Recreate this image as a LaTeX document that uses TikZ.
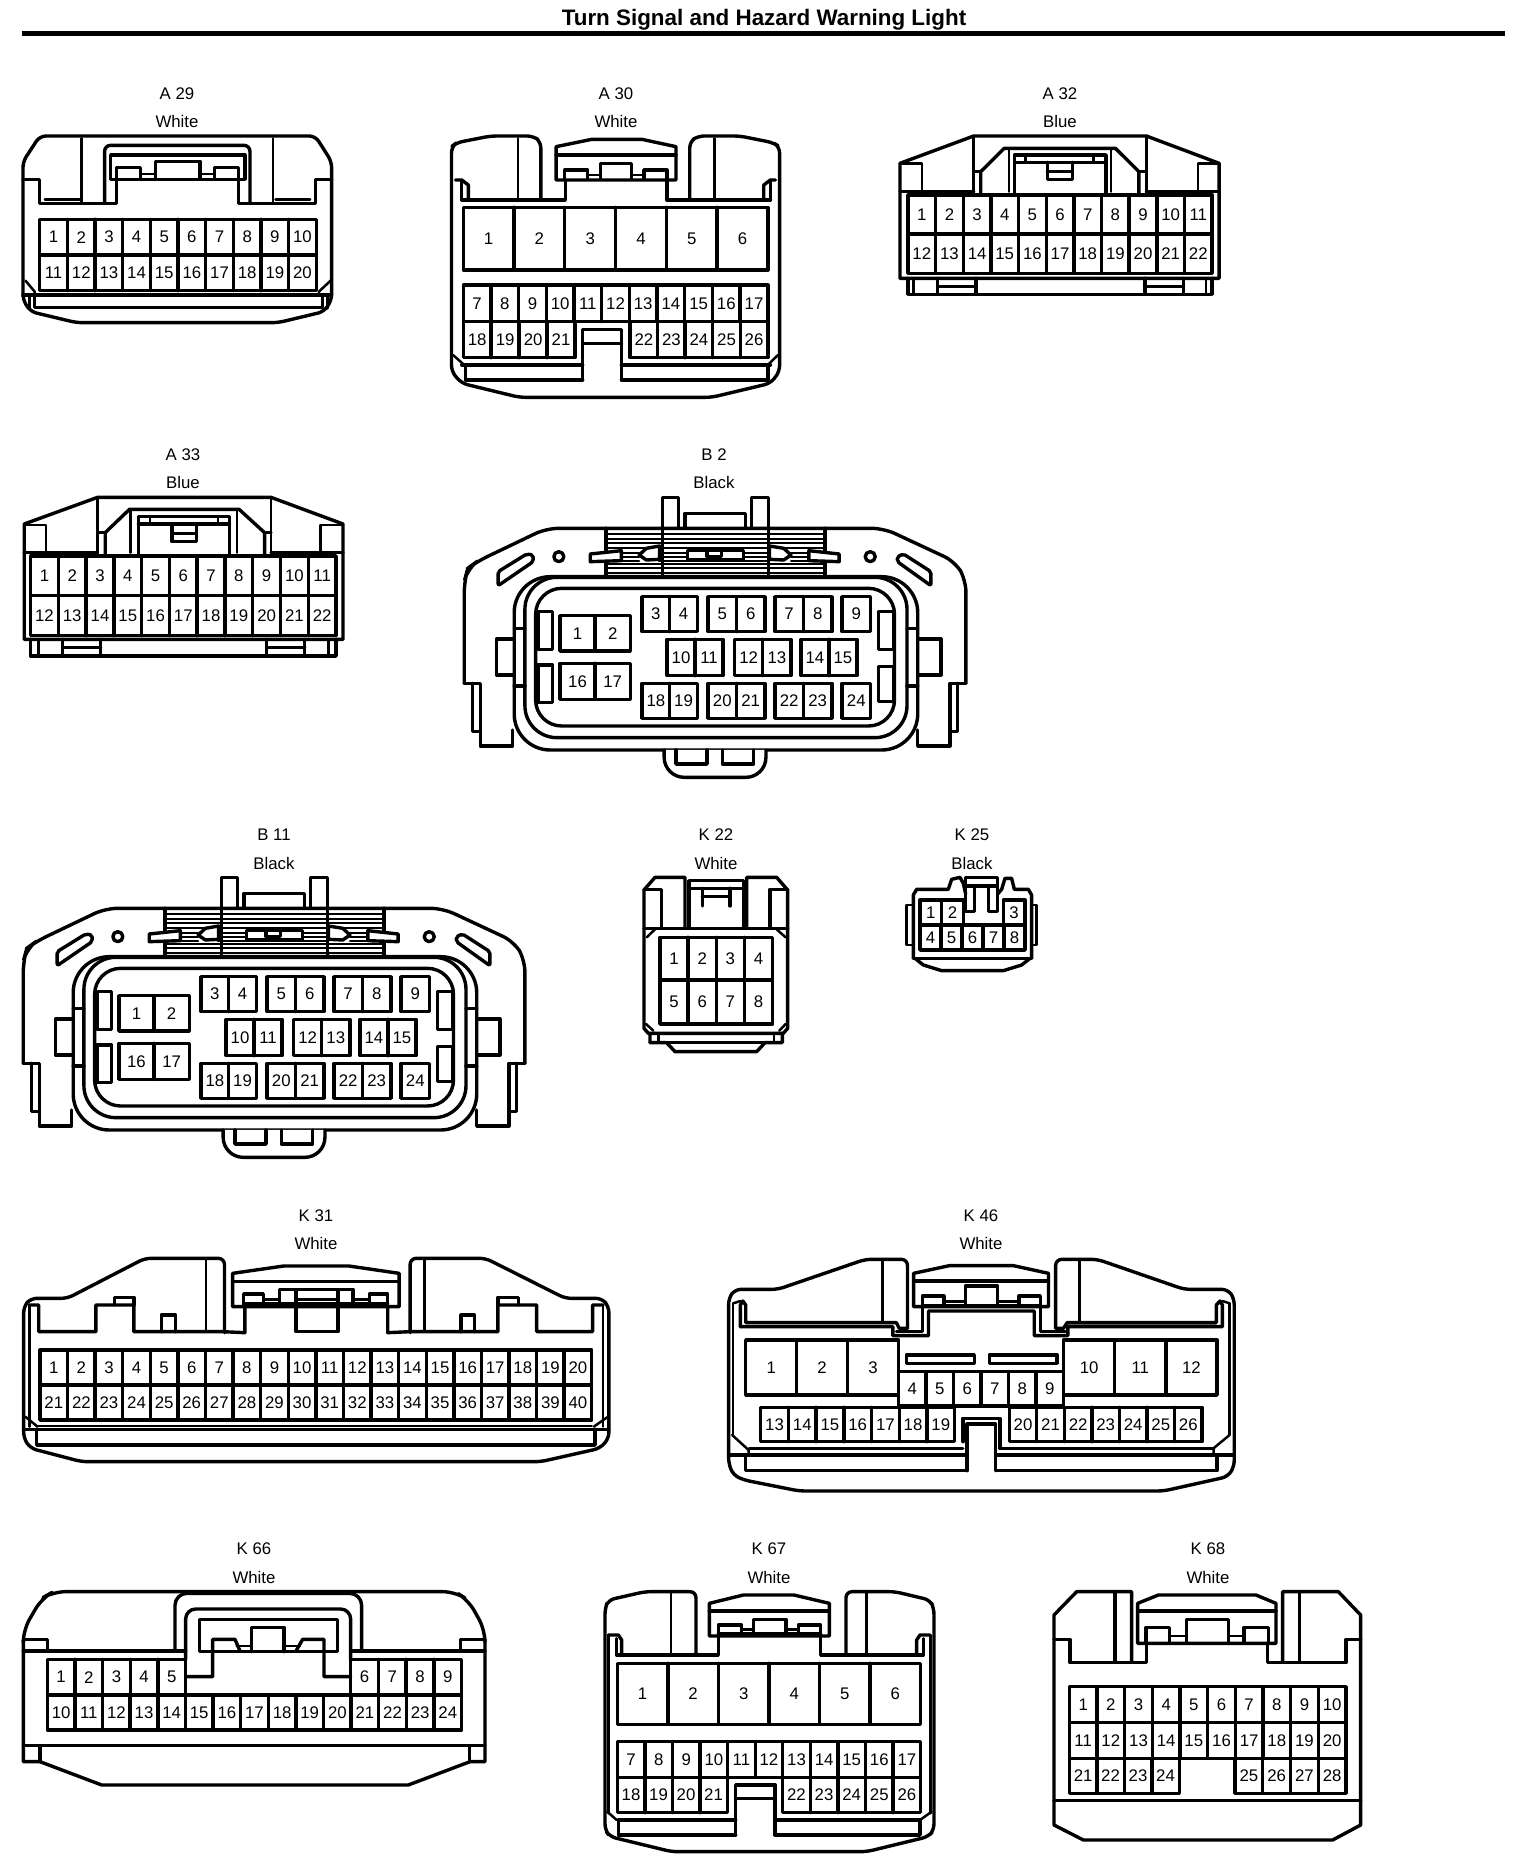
\documentclass[tikz,border=0pt]{standalone}
\usepackage{fontspec}
\setmainfont{Liberation Sans}
\tikzset{
  zm/.style n args={3}{x={0.5pt/#1},y={-0.5pt/3},xshift={#2*0.5pt},yshift={-#3*0.5pt}},
  pinlabel/.style={inner sep=0pt,font=\fontsize{8.4}{10}\selectfont},
  caption/.style={inner sep=0pt,font=\fontsize{8.4}{10}\selectfont},
  heading/.style={inner sep=0pt,font=\fontsize{11.2}{13}\selectfont\bfseries},
  rib/.style={line width=0.9pt},
  fine/.style={line width=1.25pt},
  wfill/.style={fill=white},
}
% x0 x1 y0 y1 first count
\newcommand{\pinrow}[6]{%
  \draw (#1,#3) rectangle (#2,#4);
  \foreach \i in {1,...,#6}{%
    \pgfmathsetmacro\xa{#1+(#2-#1)/#6*(\i-1)}%
    \pgfmathsetmacro\xc{#1+(#2-#1)/#6*(\i-0.5)}%
    \pgfmathsetmacro\ym{(#3+#4)/2}%
    \pgfmathtruncatemacro\lab{#5+\i-1}%
    \ifnum\i>1 \draw (\xa,#3) -- (\xa,#4);\fi
    \node[pinlabel] (p\lab) at (\xc,\ym) {\lab};
  }%
}
\newcommand{\capt}[4]{% name x id colour
  \node[caption] (n#1) at (#2*0.5pt,-#3*0.5pt) {#4};
}
\newcommand{\bconn}{%
  % ribs
  \foreach \yy in {268,282,296,310,324,372,385,398}{\draw[rib] (462,\yy) -- (1075,\yy);}
  \foreach \xa/\xb in {505/555,610/690,845/920,980/1030}{
    \foreach \yy in {338,350,362}{\draw[rib] (\xa,\yy) -- (\xb,\yy);}
  }
  \draw[rounded corners=6pt] (65,730) -- (65,425) -- (75,385) -- (100,365) -- (295,265) -- (1240,265) -- (1440,365) -- (1470,420) -- (1470,730);
  \draw (1470,730) -- (1425,730) -- (1425,918) -- (1335,918) -- (1335,870);
  \draw (65,730) -- (110,730) -- (110,918) -- (200,918) -- (200,870);
  \draw (88,730) -- (88,875) -- (110,875);
  \draw (1447,730) -- (1447,875) -- (1425,875);
  \draw (462,265) -- (462,405);
  \draw (1075,265) -- (1075,405);
  \draw (620,405) -- (620,172) -- (665,172) -- (665,265);
  \draw (917,405) -- (917,172) -- (870,172) -- (870,265);
  \draw (683,265) -- (683,220) -- (852,220) -- (852,265);
  \draw[wfill] (418,365) -- (418,342) -- (505,332) -- (505,362) -- cycle;
  \draw[wfill] (1030,332) -- (1115,342) -- (1115,365) -- (1030,362) -- cycle;
  \draw[wfill] (612,318) -- (575,325) -- (555,345) -- (575,360) -- (612,358) -- cycle;
  \draw[wfill] (920,318) -- (960,325) -- (980,345) -- (960,360) -- (920,358) -- cycle;
  \draw[wfill] (690,332) rectangle (847,360);
  \draw (745,332) -- (745,350) -- (785,350) -- (785,332);
  % slots and holes
  \draw[rounded corners=1pt] (160,395) -- (160,437) -- (258,365) -- (258,345) -- (240,342) -- cycle;
  \draw[rounded corners=1pt] (1372,395) -- (1372,437) -- (1278,365) -- (1278,350) -- (1295,342) -- cycle;
  \draw (330,350) circle [radius=2.5pt];
  \draw (1202,350) circle [radius=2.5pt];
  % housing
  \draw[wfill,rounded corners=18pt] (205,410) rectangle (1335,930);
  \draw[rounded corners=16pt] (235,412) rectangle (1305,893);
  \draw[rounded corners=13pt] (265,445) rectangle (1270,858);
  % side features
  \draw (312,515) -- (272,515) -- (272,628) -- (312,628) -- cycle;
  \draw (312,675) -- (272,675) -- (272,788) -- (312,788) -- cycle;
  \draw (1225,515) -- (1268,515) -- (1268,628) -- (1225,628) -- cycle;
  \draw (1225,680) -- (1268,680) -- (1268,785) -- (1225,785) -- cycle;
  \draw (205,597) -- (155,597) -- (155,705) -- (205,705);
  \draw (1335,597) -- (1400,597) -- (1400,705) -- (1335,705);
  \draw (205,565) -- (235,565);
  \draw (205,738) -- (235,738);
  \draw (1305,565) -- (1335,565);
  \draw (1305,738) -- (1335,738);
  % pins
  \pinrow{333}{530}{527}{633}{1}{2}
  \pinrow{333}{530}{670}{778}{16}{2}
  \pinrow{563}{718}{470}{575}{3}{2}
  \pinrow{748}{907}{470}{575}{5}{2}
  \pinrow{935}{1095}{470}{575}{7}{2}
  \pinrow{1123}{1203}{470}{575}{9}{1}
  \pinrow{633}{790}{598}{707}{10}{2}
  \pinrow{822}{980}{598}{707}{12}{2}
  \pinrow{1008}{1165}{598}{707}{14}{2}
  \pinrow{563}{718}{730}{835}{18}{2}
  \pinrow{748}{907}{730}{835}{20}{2}
  \pinrow{935}{1095}{730}{835}{22}{2}
  \pinrow{1123}{1203}{730}{835}{24}{1}
  % bottom clip
  \draw[wfill,rounded corners=10pt] (625,930) -- (625,1012) -- (910,1012) -- (910,930);
  \draw (658,930) -- (658,972) -- (745,972) -- (745,930);
  \draw (788,930) -- (788,972) -- (875,972) -- (875,930);
}
\begin{document}
\begin{tikzpicture}[line width=1.7pt,line join=round,line cap=round]
\useasboundingbox (0,0) rectangle (768pt,-937pt);
\node[heading] (title) at (764*0.5pt,-20*0.5pt) {Turn Signal and Hazard Warning Light};
\coordinate (ruleL) at (22*0.5pt,-33.5*0.5pt);
\coordinate (ruleR) at (1505*0.5pt,-33.5*0.5pt);
\draw[line width=2.5pt,line cap=butt] (ruleL) -- (ruleR);

\capt{a29a}{177}{94}{A 29}\capt{a29b}{177}{121}{White}
\capt{a30a}{616}{94}{A 30}\capt{a30b}{616}{121}{White}
\capt{a32a}{1060}{94}{A 32}\capt{a32b}{1060}{121}{Blue}
\capt{a33a}{183}{455}{A 33}\capt{a33b}{183}{482}{Blue}
\capt{b2a}{714}{455}{B 2}\capt{b2b}{714}{482}{Black}
\capt{b11a}{274}{835}{B 11}\capt{b11b}{274}{863}{Black}
\capt{k22a}{716}{835}{K 22}\capt{k22b}{716}{863}{White}
\capt{k25a}{972}{835}{K 25}\capt{k25b}{972}{863}{Black}
\capt{k31a}{316}{1216}{K 31}\capt{k31b}{316}{1243}{White}
\capt{k46a}{981}{1216}{K 46}\capt{k46b}{981}{1243}{White}
\capt{k66a}{254}{1549}{K 66}\capt{k66b}{254}{1577}{White}
\capt{k67a}{769}{1549}{K 67}\capt{k67b}{769}{1577}{White}
\capt{k68a}{1208}{1549}{K 68}\capt{k68b}{1208}{1577}{White}

% A29
\begin{scope}[zm={1.96}{0}{0},name prefix=a29-]
  \draw[rounded corners=3pt] (78,408) -- (45,485) -- (45,900) -- (60,935) -- (150,968) -- (545,968) -- (635,935) -- (650,900) -- (650,485) -- (618,408) -- cycle;
  \draw (45,538) -- (78,538) -- (78,610) -- (228,610) -- (228,538);
  \draw (650,538) -- (618,538) -- (618,610) -- (468,610) -- (468,538);
  \draw[rounded corners=3pt] (205,610) -- (205,436) -- (490,436) -- (490,610);
  \draw (217,538) rectangle (480,465);
  \draw (228,535) -- (228,502) -- (275,502) -- (275,535);
  \draw (305,535) -- (305,484) -- (392,484) -- (392,535);
  \draw (420,535) -- (420,502) -- (468,502) -- (468,535);
  \draw[fine] (275,522) -- (305,522) (392,522) -- (420,522);
  \draw[fine] (160,415) -- (160,610) (535,415) -- (535,610);
  \draw[fine] (88,598) -- (160,598) (540,598) -- (608,598);
  \pinrow{78}{620}{658}{765}{1}{10}
  \pinrow{78}{620}{765}{872}{11}{10}
  \draw (45,885) -- (650,885);
  \draw (68,885) -- (68,922) -- (632,922) -- (632,885);
  \draw[fine] (50,842) -- (68,875) -- (68,885) (648,842) -- (625,875) -- (625,885);
  \draw[fine] (58,885) -- (58,925) (642,885) -- (642,925);
\end{scope}

% A30
\begin{scope}[zm={1.96}{0}{0},name prefix=a30-]
  \draw[rounded corners=3pt] (1060,600) -- (1060,425) -- (1045,408) -- (962,408) -- (895,428) -- (885,440) -- (885,1115) -- (905,1150) -- (1018,1192) -- (1395,1192) -- (1510,1150) -- (1528,1115) -- (1528,440) -- (1515,428) -- (1450,408) -- (1368,408) -- (1352,425) -- (1352,600);
  \draw[fine] (1015,415) -- (1015,600) (1400,415) -- (1400,600);
  \draw (1090,540) -- (1090,440) -- (1160,418) -- (1258,418) -- (1325,440) -- (1325,540) -- cycle;
  \draw (1090,465) -- (1325,465);
  \draw (1107,535) -- (1107,510) -- (1152,510) -- (1152,535);
  \draw (1177,535) -- (1177,490) -- (1238,490) -- (1238,535);
  \draw (1262,535) -- (1262,510) -- (1307,510) -- (1307,535);
  \draw[fine] (1152,525) -- (1177,525) (1238,525) -- (1262,525);
  \draw (905,600) -- (1108,600) -- (1108,540);
  \draw (1307,540) -- (1307,600) -- (1510,600);
  \draw (893,540) -- (905,540) -- (918,555) -- (918,600);
  \draw[fine] (905,540) -- (905,600) (1510,540) -- (1510,600);
  \draw (1520,540) -- (1510,540) -- (1497,555) -- (1497,600);
  \pinrow{908}{1505}{622}{810}{1}{6}
  \pinrow{908}{1505}{855}{965}{7}{11}
  \pinrow{908}{1127}{965}{1073}{18}{4}
  \pinrow{1235}{1505}{965}{1073}{22}{5}
  \draw (1142,1140) -- (1142,988) -- (1218,988) -- (1218,1140);
  \draw (1142,1030) -- (1218,1030);
  \draw (905,1095) -- (1142,1095) (1218,1095) -- (1510,1095);
  \draw (912,1095) -- (912,1140) -- (1142,1140) (1218,1140) -- (1505,1140) -- (1505,1095);
  \draw[fine] (888,1065) -- (910,1095) (1525,1065) -- (1505,1095);
\end{scope}

% A32
\begin{scope}[zm={2.13}{800}{60},name prefix=a32-]
  \draw (213,655) -- (213,310) -- (370,228) -- (738,228) -- (893,310) -- (893,655) -- cycle;
  \draw[fine] (370,228) -- (370,408) (738,228) -- (738,408);
  \draw[fine] (213,310) -- (260,310) -- (260,395) (893,310) -- (848,310) -- (848,395);
  \draw (213,395) -- (370,395) (738,395) -- (893,395);
  \draw (385,403) -- (385,335) -- (435,265) -- (672,265) -- (722,335) -- (722,403);
  \draw (370,335) -- (385,335) (722,335) -- (738,335);
  \draw (385,403) -- (722,403);
  \draw (457,403) -- (457,285) -- (652,285) -- (652,403);
  \draw[fine] (445,265) -- (445,395) (662,265) -- (662,395);
  \draw (457,307) -- (652,307);
  \draw[fine] (480,285) -- (480,307) (625,285) -- (625,307);
  \draw (527,307) -- (527,358) -- (580,358) -- (580,307);
  \draw (527,335) -- (580,335);
  \pinrow{230}{878}{405}{522}{1}{11}
  \pinrow{230}{878}{522}{640}{12}{11}
  \draw (230,655) -- (230,703) -- (878,703) -- (878,655);
  \draw[fine] (242,655) -- (242,703) (865,655) -- (865,703);
  \draw (293,655) -- (293,703) (375,655) -- (375,703) (293,680) -- (375,680);
  \draw (735,655) -- (735,703) (817,655) -- (817,703) (735,680) -- (817,680);
\end{scope}

% A33
\begin{scope}[zm={1.568}{0}{440},name prefix=a33-]
  \draw (38,598) -- (38,252) -- (153,172) -- (425,172) -- (538,252) -- (538,598) -- cycle;
  \draw[fine] (153,172) -- (153,348) (425,172) -- (425,348);
  \draw[fine] (38,255) -- (72,255) -- (72,335) (538,255) -- (503,255) -- (503,335);
  \draw (38,338) -- (153,338) (425,338) -- (538,338);
  \draw (165,348) -- (165,278) -- (203,208) -- (375,208) -- (415,278) -- (415,348);
  \draw (153,278) -- (165,278) (415,278) -- (425,278);
  \draw (165,348) -- (415,348);
  \draw (217,348) -- (217,230) -- (360,230) -- (360,348);
  \draw[fine] (205,208) -- (205,338) (372,208) -- (372,338);
  \draw (217,252) -- (360,252);
  \draw[fine] (235,230) -- (235,252) (342,230) -- (342,252);
  \draw (270,252) -- (270,305) -- (308,305) -- (308,252);
  \draw (270,280) -- (308,280);
  \pinrow{48}{527}{348}{467}{1}{11}
  \pinrow{48}{527}{467}{587}{12}{11}
  \draw (48,598) -- (48,648) -- (527,648) -- (527,598);
  \draw[fine] (60,598) -- (60,648) (515,598) -- (515,648);
  \draw (98,598) -- (98,648) (158,598) -- (158,648) (98,622) -- (158,622);
  \draw (418,598) -- (418,648) (478,598) -- (478,648) (418,622) -- (478,622);
\end{scope}

% B2 and B11
\begin{scope}[zm={2.8}{441}{440},name prefix=b2-]
  \bconn
\end{scope}
\begin{scope}[zm={2.8}{0}{820},name prefix=b11-]
  \bconn
\end{scope}

% K22
\begin{scope}[zm={3}{620}{820},name prefix=k22-]
  \draw (195,325) -- (195,172) -- (105,172) -- (72,210) -- (72,625) -- (85,640) -- (490,640) -- (503,625) -- (503,210) -- (470,172) -- (380,172) -- (380,325);
  \draw (72,208) -- (125,208) -- (125,325);
  \draw (503,208) -- (450,208) -- (450,325);
  \draw (207,325) -- (207,182) -- (370,182) -- (370,325);
  \draw (207,205) -- (370,205);
  \draw (247,205) -- (247,258) (330,205) -- (330,258);
  \draw (247,230) -- (330,230);
  \draw (72,325) -- (503,325);
  \draw[fine] (80,352) -- (105,328) (470,328) -- (497,352);
  \pinrow{120}{458}{352}{480}{1}{4}
  \pinrow{120}{458}{480}{612}{5}{4}
  \draw[fine] (78,612) -- (100,632) (497,612) -- (478,632);
  \draw (90,640) -- (90,668) -- (140,668) -- (165,695) -- (410,695) -- (435,668) -- (487,668) -- (487,640);
  \draw (90,668) -- (487,668);
  \draw[fine] (115,640) -- (115,668) (462,640) -- (462,668);
\end{scope}

% K25
\begin{scope}[zm={3}{620}{820},name prefix=k25-]
  \draw (880,415) -- (880,225) -- (890,208) -- (985,208) -- (995,178) -- (1020,172) -- (1030,190) -- (1037,222);
  \draw (1235,415) -- (1235,225) -- (1225,208) -- (1183,208) -- (1175,175) -- (1155,175) -- (1145,208) -- (1133,222);
  \draw (1037,198) -- (1037,172) -- (1133,172) -- (1133,198) -- cycle;
  \draw (1037,198) -- (1037,275) -- (1063,275) -- (1063,198);
  \draw (1105,198) -- (1105,275) -- (1133,275) -- (1133,198);
  \draw (880,415) -- (1235,415);
  \draw (885,415) -- (910,435) -- (965,452) -- (1150,452) -- (1205,435) -- (1230,415);
  \draw[fine] (878,255) -- (860,255) -- (860,375) -- (878,375);
  \draw[fine] (1235,255) -- (1250,255) -- (1250,375) -- (1235,375);
  \pinrow{900}{1030}{240}{315}{1}{2}
  \pinrow{1150}{1215}{240}{315}{3}{1}
  \pinrow{900}{1215}{315}{390}{4}{5}
\end{scope}

% K31
\begin{scope}[zm={2.45}{0}{1200},name prefix=k31-]
  \draw[rounded corners=3pt] (550,398) -- (550,175) -- (355,175) -- (165,295) -- (75,295) -- (58,320) -- (58,715) -- (75,745) -- (200,785) -- (1325,785) -- (1470,745) -- (1492,715) -- (1492,320) -- (1475,295) -- (1385,295) -- (1190,175) -- (1005,175) -- (1005,398);
  \draw[fine] (505,180) -- (505,392) (1040,180) -- (1040,392);
  \draw[fine] (72,315) -- (72,680) (1478,315) -- (1478,680);
  \draw (72,315) -- (95,315) -- (95,395) -- (235,395) -- (235,315) -- (328,315) -- (328,395) -- (545,395) -- (600,398) -- (600,320);
  \draw (280,315) -- (280,292) -- (328,292) -- (328,315);
  \draw (395,395) -- (395,345) -- (430,345) -- (430,395);
  \draw (1478,315) -- (1452,315) -- (1452,395) -- (1315,395) -- (1315,315) -- (1220,315) -- (1220,395) -- (1005,395) -- (950,398) -- (950,320);
  \draw (1220,315) -- (1220,292) -- (1270,292) -- (1270,315);
  \draw (1130,395) -- (1130,345) -- (1162,345) -- (1162,395);
  \draw (570,320) -- (570,220) -- (695,198) -- (855,198) -- (978,220) -- (978,320) -- cycle;
  \draw (570,245) -- (978,245);
  \draw (597,320) -- (597,282) -- (645,282) -- (645,310);
  \draw (685,310) -- (685,268) -- (865,268) -- (865,310);
  \draw (905,310) -- (905,282) -- (950,282) -- (950,320);
  \draw[fine] (645,298) -- (685,298) (865,298) -- (905,298);
  \draw (597,310) -- (950,310);
  \draw (725,272) -- (725,395) -- (828,395) -- (828,272);
  \draw[fine] (725,298) -- (828,298);
  \pinrow{98}{1450}{450}{555}{1}{20}
  \pinrow{98}{1450}{555}{660}{21}{20}
  \draw[fine] (95,678) -- (1450,678);
  \draw (58,688) -- (1492,688);
  \draw (90,688) -- (90,735) -- (1458,735) -- (1458,688);
  \draw[fine] (62,650) -- (92,680) (1490,650) -- (1455,680);
\end{scope}

% K46
\begin{scope}[zm={2.8}{710}{1200},name prefix=k46-]
  \draw[rounded corners=3pt] (553,385) -- (553,178) -- (435,178) -- (190,268) -- (70,268) -- (52,295) -- (52,790) -- (65,825) -- (95,840) -- (250,873) -- (1270,873) -- (1450,830) -- (1468,800) -- (1468,295) -- (1450,268) -- (1328,268) -- (1085,178) -- (968,178) -- (968,385);
  \draw[fine] (483,178) -- (483,368) (1035,178) -- (1035,368);
  \draw (570,320) -- (570,220) -- (670,197) -- (850,197) -- (948,220) -- (948,320) -- cycle;
  \draw (570,243) -- (948,243);
  \draw (595,316) -- (595,288) -- (655,288) -- (655,312);
  \draw (715,312) -- (715,258) -- (805,258) -- (805,312);
  \draw (865,312) -- (865,288) -- (925,288) -- (925,316);
  \draw[fine] (655,305) -- (715,305) (805,305) -- (865,305);
  \draw (595,316) -- (925,316);
  \draw (85,380) -- (85,315) -- (92,303) -- (100,315) -- (100,368) -- (522,368) -- (530,385) -- (553,385);
  \draw (85,380) -- (512,380) -- (512,407) -- (612,407) -- (612,333) -- (908,333) -- (908,407) -- (1002,407) -- (1002,380) -- (1435,380) -- (1435,315) -- (1428,303) -- (1418,315) -- (1418,368) -- (1000,368) -- (990,385) -- (968,385);
  \draw (595,320) -- (595,395) -- (522,395);
  \draw (925,320) -- (925,395) -- (995,395);
  \draw[fine] (65,310) -- (65,705) (1455,310) -- (1455,705);
  \draw[fine] (65,310) -- (85,303) (1455,310) -- (1435,303);
  \pinrow{100}{528}{420}{585}{1}{3}
  \pinrow{990}{1420}{420}{585}{10}{3}
  \draw (550,465) rectangle (740,490);
  \draw (782,465) rectangle (972,490);
  \pinrow{528}{990}{515}{618}{4}{6}
  \pinrow{142}{685}{622}{725}{13}{7}
  \pinrow{838}{1378}{622}{725}{20}{7}
  \draw (708,725) -- (708,655) -- (812,655) -- (812,745);
  \draw (720,812) -- (720,672) -- (800,672) -- (800,812);
  \draw (110,745) -- (708,745) (812,745) -- (1410,745);
  \draw (52,765) -- (720,765) (800,765) -- (1468,765);
  \draw (100,765) -- (100,812) -- (720,812) (800,812) -- (1420,812) -- (1420,765);
  \draw[fine] (62,705) -- (108,750) -- (108,765) (1455,705) -- (1410,745) -- (1410,765);
\end{scope}

% K66
\begin{scope}[zm={3}{0}{1540},name prefix=k66-]
  \draw[rounded corners=6pt] (70,300) -- (70,270) -- (125,175) -- (160,155) -- (1365,155) -- (1405,180) -- (1455,270) -- (1455,300);
  \draw (70,300) -- (70,665) -- (120,665) -- (305,735) -- (1225,735) -- (1410,665) -- (1455,665) -- (1455,300);
  \draw (72,298) -- (142,298) -- (142,333) (1382,333) -- (1382,298) -- (1455,298);
  \draw (70,333) -- (525,333) (1085,333) -- (1455,333);
  \draw[rounded corners=6pt] (525,333) -- (525,160) -- (1085,160) -- (1085,333);
  \draw (525,333) -- (557,333) (1052,333) -- (1085,333);
  \draw[rounded corners=5pt] (557,358) -- (557,207) -- (1052,207) -- (1052,358);
  \draw (598,335) rectangle (1013,238);
  \draw (755,335) -- (755,262) -- (852,262) -- (852,335);
  \draw (557,410) -- (638,410) -- (638,298) -- (705,298) -- (720,333);
  \draw (1052,410) -- (972,410) -- (972,298) -- (908,298) -- (888,333);
  \draw[fine] (710,318) -- (755,318) (852,318) -- (900,318);
  \pinrow{142}{557}{358}{465}{1}{5}
  \pinrow{1052}{1385}{358}{465}{6}{4}
  \pinrow{142}{1385}{465}{570}{10}{15}
  \draw (70,617) -- (1455,617);
  \draw (120,617) -- (120,665) (1408,617) -- (1408,665);
\end{scope}

% K67
\begin{scope}[zm={3}{590}{1540},name prefix=k67-]
  \draw[rounded corners=3pt] (318,345) -- (318,155) -- (165,155) -- (55,180) -- (45,205) -- (45,870) -- (60,890) -- (245,935) -- (830,935) -- (1015,890) -- (1032,870) -- (1032,205) -- (1020,180) -- (915,155) -- (768,155) -- (768,345);
  \draw[fine] (243,155) -- (243,345) (830,155) -- (830,345);
  \draw (358,288) -- (358,190) -- (460,165) -- (612,165) -- (718,190) -- (718,288) -- cycle;
  \draw (358,213) -- (718,213);
  \draw (385,285) -- (385,255) -- (455,255) -- (455,282);
  \draw (490,282) -- (490,238) -- (588,238) -- (588,282);
  \draw (625,282) -- (625,255) -- (692,255) -- (692,285);
  \draw[fine] (455,268) -- (490,268) (588,268) -- (625,268);
  \draw (385,282) -- (692,282);
  \draw (80,345) -- (385,345) -- (385,285);
  \draw (692,285) -- (692,345) -- (1000,345);
  \draw (55,285) -- (85,285) -- (95,300) -- (95,345);
  \draw (1020,285) -- (990,285) -- (980,300) -- (980,345);
  \draw[fine] (80,295) -- (80,345) (1000,295) -- (1000,345);
  \draw[fine] (55,285) -- (55,820) (1022,285) -- (1022,820);
  \pinrow{82}{992}{370}{553}{1}{6}
  \pinrow{82}{992}{605}{712}{7}{11}
  \pinrow{82}{412}{712}{818}{18}{4}
  \pinrow{578}{992}{712}{818}{22}{5}
  \draw (437,885) -- (437,735) -- (555,735) -- (555,885);
  \draw (437,775) -- (555,775);
  \draw (85,840) -- (437,840) (555,840) -- (990,840);
  \draw (85,840) -- (85,885) -- (437,885) (555,885) -- (990,885) -- (990,840);
  \draw[fine] (52,815) -- (80,840) (1025,815) -- (990,840);
\end{scope}

% K68
\begin{scope}[zm={3}{1040}{1540},name prefix=k68-]
  \draw (275,365) -- (275,155) -- (110,155) -- (42,225) -- (42,855) -- (130,900) -- (878,900) -- (962,855) -- (962,225) -- (895,155) -- (728,155) -- (728,365);
  \draw (225,155) -- (225,365) (778,155) -- (778,365);
  \draw (42,298) -- (90,298) -- (90,368) -- (320,368) -- (320,312);
  \draw (962,298) -- (918,298) -- (918,368) -- (682,368) -- (682,312);
  \draw (293,310) -- (293,190) -- (355,165) -- (648,165) -- (708,190) -- (708,310) -- cycle;
  \draw (293,213) -- (708,213);
  \draw (318,310) -- (318,262) -- (388,262) -- (388,310);
  \draw (440,310) -- (440,238) -- (565,238) -- (565,310);
  \draw (612,310) -- (612,262) -- (685,262) -- (685,310);
  \draw[fine] (388,288) -- (440,288) (565,288) -- (612,288);
  \pinrow{88}{918}{440}{548}{1}{10}
  \pinrow{88}{918}{548}{655}{11}{10}
  \pinrow{88}{418}{655}{760}{21}{4}
  \pinrow{585}{918}{655}{760}{25}{4}
  \draw (42,782) -- (962,782);
\end{scope}
\end{tikzpicture}
\end{document}
